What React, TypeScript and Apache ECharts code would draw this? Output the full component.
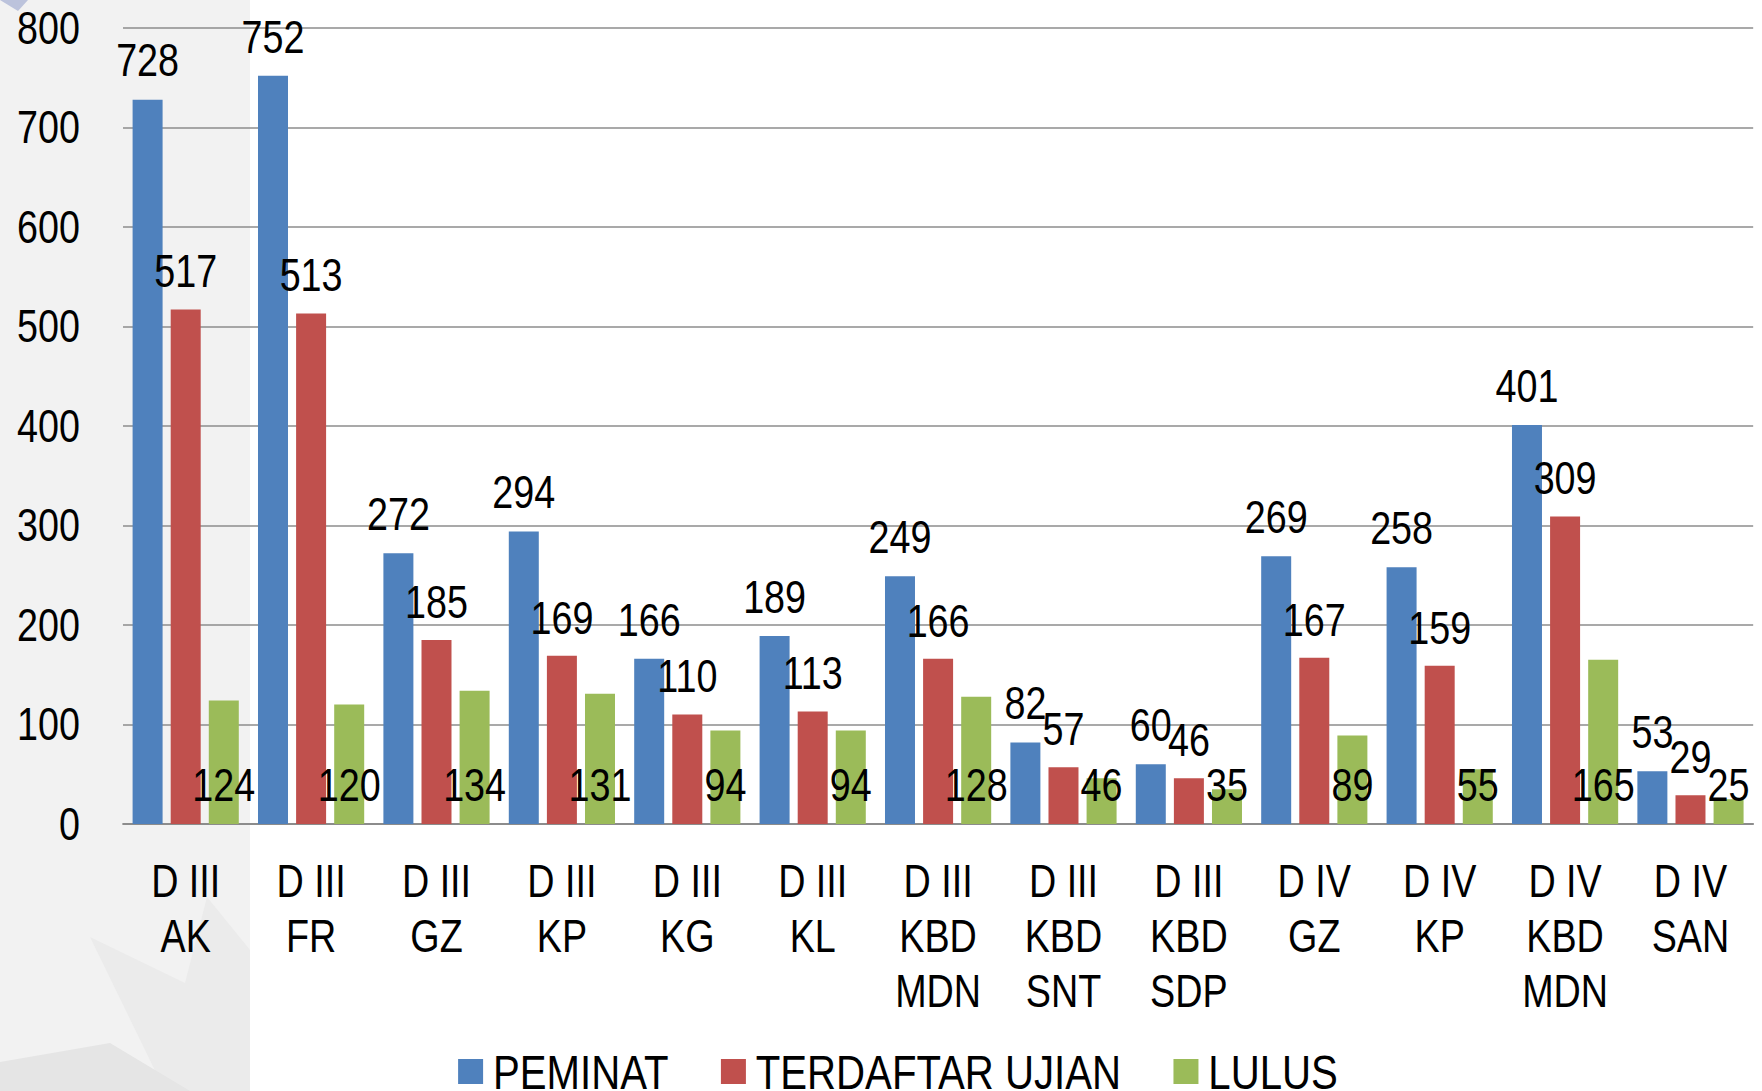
import React, { useEffect, useRef } from "react";
import * as echarts from "echarts";

const categories = [
  "D III\nAK", "D III\nFR", "D III\nGZ", "D III\nKP", "D III\nKG", "D III\nKL",
  "D III\nKBD\nMDN", "D III\nKBD\nSNT", "D III\nKBD\nSDP", "D IV\nGZ", "D IV\nKP",
  "D IV\nKBD\nMDN", "D IV\nSAN",
];
const peminat = [728, 752, 272, 294, 166, 189, 249, 82, 60, 269, 258, 401, 53];
const terdaftar = [517, 513, 185, 169, 110, 113, 166, 57, 46, 167, 159, 309, 29];
const lulus = [124, 120, 134, 131, 94, 94, 128, 46, 35, 89, 55, 165, 25];
const seriesNames = ["PEMINAT", "TERDAFTAR UJIAN", "LULUS"];
const colors = ["#4F81BD", "#C0504D", "#9BBB59"];
const yTicks = { min: 0, max: 800, interval: 100 };

// The reference uses a narrow (Arial Narrow-like) face; emulate it by
// rendering with Liberation Sans and compressing the whole chart horizontally.
const S = 0.82;
const FONT = "'Liberation Sans', Arial, sans-serif";
const W = 1762;
const H = 1091;
const sx = (v: number) => v / S;

export default function App() {
  const ref = useRef<HTMLDivElement>(null);
  useEffect(() => {
    if (!ref.current) return;
    const chart = echarts.init(ref.current, null, { renderer: "svg" });
    const labelStyle = { fontFamily: FONT, fontSize: 46, color: "#000" };
    const mk = (name: string, data: number[], color: string, pos: string, dist: number) => ({
      name,
      type: "bar",
      data,
      barWidth: sx(30),
      barGap: "27%",
      itemStyle: { color },
      label: { show: true, position: pos, distance: dist, ...labelStyle },
    });
    const pts = (arr: number[][]) => arr.map(([x, y]) => [sx(x), y]);
    chart.setOption({
      animation: false,
      backgroundColor: "#ffffff",
      textStyle: { fontFamily: FONT },
      graphic: [
        { type: "rect", z: -10, shape: { x: 0, y: 0, width: sx(250), height: H }, style: { fill: "#f2f2f2" } },
        { type: "polygon", z: -9, shape: { points: pts([[90, 937], [185, 983], [207, 897], [250, 950], [250, 1091], [165, 1091]]) }, style: { fill: "#ebebeb" } },
        { type: "polygon", z: -9, shape: { points: pts([[0, 1062], [110, 1043], [190, 1091], [0, 1091]]) }, style: { fill: "#e5e5e5" } },
        { type: "polygon", z: -9, shape: { points: pts([[0, 0], [28, 0], [18, 11]]) }, style: { fill: "#bcc3dc" } },
      ],
      grid: { left: sx(123), right: sx(9), top: 28, bottom: H - 824, containLabel: false },
      legend: {
        left: sx(454),
        top: 1042,
        itemWidth: sx(25),
        itemHeight: 25,
        itemGap: sx(54) - 2,
        icon: "rect",
        textStyle: { fontFamily: FONT, fontSize: 49, color: "#000", padding: [0, 0, 0, 7] },
        data: seriesNames,
      },
      xAxis: {
        type: "category",
        data: categories,
        axisLine: { lineStyle: { color: "#8c8c8c", width: 2 } },
        axisTick: { show: false },
        axisLabel: { interval: 0, fontFamily: FONT, fontSize: 46, lineHeight: 55, color: "#000", margin: 30 },
      },
      yAxis: {
        type: "value",
        min: yTicks.min,
        max: yTicks.max,
        interval: yTicks.interval,
        axisLine: { show: false },
        axisTick: { show: false },
        splitLine: { lineStyle: { color: "#8c8c8c", width: 1.5 } },
        axisLabel: { fontFamily: FONT, fontSize: 46, color: "#000", margin: sx(43) },
      },
      series: [
        mk(seriesNames[0], peminat, colors[0], "top", 16),
        mk(seriesNames[1], terdaftar, colors[1], "top", 15),
        mk(seriesNames[2], lulus, colors[2], "insideBottom", 16),
      ],
    });
    return () => chart.dispose();
  }, []);
  return (
    <div
      ref={ref}
      style={{
        position: "fixed",
        left: 0,
        top: 0,
        width: sx(W),
        height: H,
        transform: `scaleX(${S})`,
        transformOrigin: "0 0",
      }}
    />
  );
}
